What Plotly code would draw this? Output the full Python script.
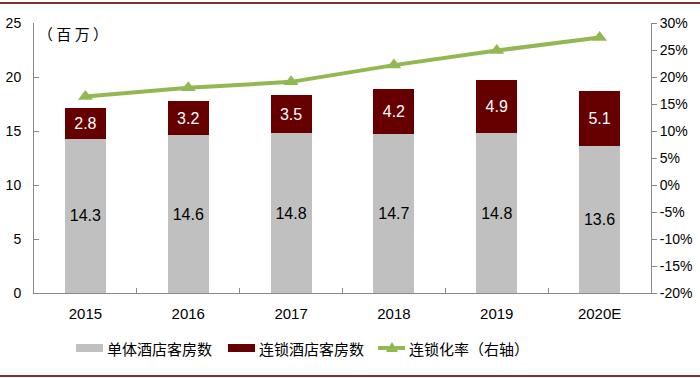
import plotly.graph_objects as go

years = ["2015", "2016", "2017", "2018", "2019", "2020E"]
independent = [14.3, 14.6, 14.8, 14.7, 14.8, 13.6]
chain = [2.8, 3.2, 3.5, 4.2, 4.9, 5.1]
chain_rate = [16.4, 18.0, 19.1, 22.2, 24.9, 27.3]
right_ticks = [-20, -15, -10, -5, 0, 5, 10, 15, 20, 25, 30]
right_tick_labels = [f"{v}%" for v in right_ticks]
legend_names = ["单体酒店客房数", "连锁酒店客房数", "连锁化率（右轴）"]

font_num = "Liberation Sans, Arial, sans-serif"
font_cjk = "Noto Sans CJK SC, sans-serif"
GRAY = "#C0C0C0"
RED = "#660000"
GREEN = "#92B852"

W, H = 700, 378
L, R, T, B = 34, 49, 23, 85
PW, PH = W - L - R, H - T - B


def px(x):
    return (x - L) / PW


def py(y):
    return (H - B - y) / PH


fig = go.Figure()
fig.add_trace(go.Bar(
    x=years, y=independent, name=legend_names[0],
    marker=dict(color=GRAY, line=dict(width=0)),
    text=[f"{v:.1f}" for v in independent], textposition="inside",
    insidetextanchor="middle", textangle=0,
    textfont=dict(color="#000000", size=16, family=font_num),
))
fig.add_trace(go.Bar(
    x=years, y=chain, name=legend_names[1],
    marker=dict(color=RED, line=dict(width=0)),
    text=[f"{v:.1f}" for v in chain], textposition="inside",
    insidetextanchor="middle", textangle=0,
    textfont=dict(color="#FFFFFF", size=16, family=font_num),
))
fig.add_trace(go.Scatter(
    x=years, y=chain_rate, name=legend_names[2], yaxis="y2",
    mode="lines+markers",
    line=dict(color=GREEN, width=4),
    marker=dict(symbol="triangle-up", size=13, color=GREEN),
))

annotations = [dict(
    text="（ 百 万 ）", xref="paper", yref="paper", x=px(36), y=py(33),
    xanchor="left", yanchor="middle", showarrow=False,
    font=dict(family=font_cjk, size=15, color="#000000"),
)]
shapes = [
    dict(type="line", xref="paper", yref="paper", x0=px(0), x1=px(700),
         y0=py(3), y1=py(3), line=dict(color="#8B2C2C", width=2)),
    dict(type="line", xref="paper", yref="paper", x0=px(0), x1=px(700),
         y0=py(376), y1=py(376), line=dict(color="#8B2C2C", width=2)),
    dict(type="rect", xref="paper", yref="paper", x0=px(76), x1=px(103),
         y0=py(352), y1=py(344), line=dict(width=0), fillcolor=GRAY),
    dict(type="rect", xref="paper", yref="paper", x0=px(228), x1=px(255),
         y0=py(352), y1=py(344), line=dict(width=0), fillcolor=RED),
    dict(type="line", xref="paper", yref="paper", x0=px(378), x1=px(405),
         y0=py(348), y1=py(348), line=dict(color=GREEN, width=4)),
    dict(type="path", xref="paper", yref="paper",
         path=f"M {px(386)} {py(352)} L {px(398)} {py(352)} L {px(392)} {py(342)} Z",
         line=dict(width=0), fillcolor=GREEN),
]
for name, x0 in zip(legend_names, [105, 257, 407]):
    annotations.append(dict(
        text=name, xref="paper", yref="paper", x=px(x0), y=py(348),
        xanchor="left", yanchor="middle", showarrow=False,
        font=dict(family=font_cjk, size=15, color="#000000"),
    ))

fig.update_layout(
    width=W, height=H,
    margin=dict(l=L, r=R, t=T, b=B, autoexpand=False),
    paper_bgcolor="white", plot_bgcolor="white",
    barmode="stack", bargap=0.6,
    showlegend=False,
    uniformtext=dict(mode=False),
    xaxis=dict(
        showline=True, linecolor="#888888", linewidth=1,
        ticks="inside", tickson="boundaries", ticklen=5, tickcolor="#888888",
        ticklabelstandoff=7,
        tickfont=dict(family=font_num, size=15, color="#000000"),
        showgrid=False,
    ),
    yaxis=dict(
        range=[0, 25], dtick=5, showline=True, linecolor="#888888", linewidth=1,
        ticks="inside", ticklen=5, tickcolor="#888888",
        ticklabelstandoff=9,
        tickfont=dict(family=font_num, size=14, color="#000000"),
        showgrid=False, zeroline=False,
    ),
    yaxis2=dict(
        overlaying="y", side="right", range=[-20, 30],
        tickmode="array", tickvals=right_ticks, ticktext=right_tick_labels,
        showline=True, linecolor="#888888", linewidth=1,
        ticks="outside", ticklen=5, tickcolor="#888888",
        tickfont=dict(family=font_num, size=14, color="#000000"),
        showgrid=False, zeroline=False,
    ),
    annotations=annotations,
    shapes=shapes,
)

fig.write_html(
    "out.html",
    config={"displayModeBar": False},
    post_script="document.body.style.margin='0px';document.body.style.overflow='hidden';",
)
